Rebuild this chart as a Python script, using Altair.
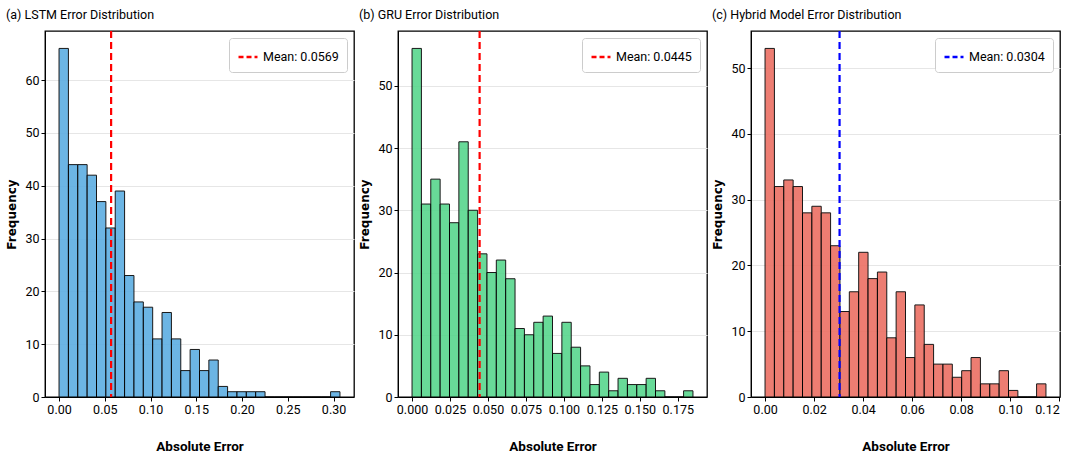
import altair as alt
import pandas as pd
import numpy as np

# ---- data ----
titles = ["(a) LSTM Error Distribution", "(b) GRU Error Distribution", "(c) Hybrid Model Error Distribution"]
lstm_counts = [66, 44, 44, 42, 37, 32, 39, 23, 18, 17, 11, 16, 11, 5, 9, 5, 7, 2, 1, 1, 1, 1, 0, 0, 0, 0, 0, 0, 0, 1]
gru_counts = [56, 31, 35, 31, 28, 41, 30, 23, 20, 22, 19, 11, 10, 12, 13, 7, 12, 8, 5, 2, 4, 1, 3, 2, 2, 3, 1, 0, 0, 1]
hyb_counts = [53, 32, 33, 32, 28, 29, 28, 23, 13, 16, 22, 18, 19, 9, 16, 6, 14, 8, 5, 5, 3, 4, 6, 2, 2, 4, 1, 0, 0, 2]
err_min = [0.0, 0.0, 0.0]
err_max = [0.307, 0.185, 0.1146]
means = [0.0569, 0.0445, 0.0304]
bar_colors = ["#5DADE2", "#58D68D", "#EC7063"]
mean_colors = ["#ff0000", "#ff0000", "#0000ff"]
x_ticks = [
    [0.0, 0.05, 0.10, 0.15, 0.20, 0.25, 0.30],
    [0.0, 0.025, 0.05, 0.075, 0.10, 0.125, 0.15, 0.175],
    [0.0, 0.02, 0.04, 0.06, 0.08, 0.10, 0.12],
]
x_formats = [".2f", ".3f", ".2f"]
y_ticks = [[0, 10, 20, 30, 40, 50, 60], [0, 10, 20, 30, 40, 50], [0, 10, 20, 30, 40, 50]]

FONT = "Roboto"

panels = []
for i, counts in enumerate([lstm_counts, gru_counts, hyb_counts]):
    n = len(counts)
    edges = np.linspace(err_min[i], err_max[i], n + 1)
    df = pd.DataFrame({"start": edges[:-1], "end": edges[1:], "count": counts})
    span = err_max[i] - err_min[i]
    xdom = [err_min[i] - 0.05 * span, err_max[i] + 0.05 * span]
    ydom = [0, max(counts) * 1.05]

    bars = alt.Chart(df).mark_bar(
        color=bar_colors[i], stroke="black", strokeWidth=1, opacity=0.9
    ).encode(
        x=alt.X("start:Q", scale=alt.Scale(domain=xdom, nice=False, zero=False),
                axis=alt.Axis(values=x_ticks[i], format=x_formats[i], title="Absolute Error",
                              grid=False)),
        x2="end:Q",
        y=alt.Y("count:Q", scale=alt.Scale(domain=ydom, nice=False),
                axis=alt.Axis(values=y_ticks[i], title="Frequency", grid=True)),
        y2=alt.datum(0),
    )

    mdf = pd.DataFrame({"mean": [means[i]], "label": [f"Mean: {means[i]:.4f}"]})
    rule = alt.Chart(mdf).mark_rule(strokeDash=[7, 4], strokeWidth=2.2).encode(
        x="mean:Q",
        color=alt.Color("label:N", scale=alt.Scale(range=[mean_colors[i]]),
                        legend=alt.Legend(title=None, orient="top-right", offset=7,
                                          symbolType="stroke", symbolDash=[5, 3],
                                          symbolStrokeWidth=2.5, symbolSize=360,
                                          strokeColor="#cccccc", fillColor="white",
                                          padding=8, cornerRadius=3,
                                          labelFontSize=12.5, labelFont=FONT)),
    )

    panel = alt.layer(bars, rule).properties(
        width=309, height=366,
        title=alt.TitleParams(titles[i], anchor="start", fontSize=12.5, fontWeight="normal",
                              font=FONT, offset=8),
    ).resolve_scale(color="independent")
    panels.append(panel)

chart = alt.hconcat(*panels, spacing=3).resolve_scale(
    color="independent", x="independent", y="independent"
).resolve_legend(color="independent").properties(
    padding={"left": 5, "top": 8, "right": 5, "bottom": 0}
).configure_view(
    stroke="black", strokeWidth=1.3
).configure_axis(
    labelFont=FONT, labelFontSize=12.5, labelColor="black",
    titleFont="DejaVu Sans", titleFontSize=12, titleFontWeight="bold", titleColor="black",
    domainColor="black", tickColor="black", tickSize=4,
    gridColor="#e6e6e6", gridWidth=1.2,
).configure_axisX(
    titleFont=FONT, titleFontSize=13.5, titlePadding=24
).configure_axisY(
    titlePadding=6
)

chart.save("out.html", embed_options={"renderer": "svg", "actions": False})
